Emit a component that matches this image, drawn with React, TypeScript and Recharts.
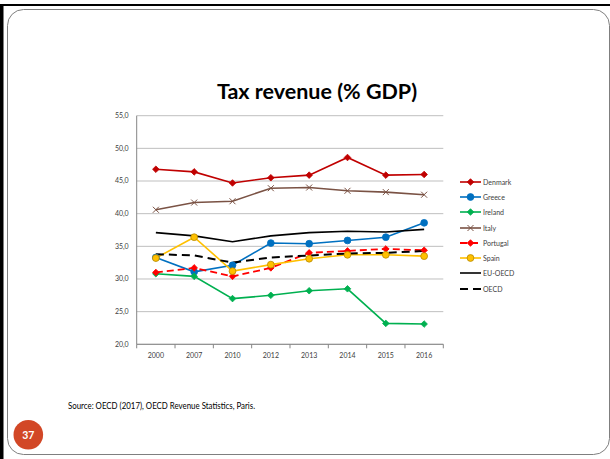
import React from 'react';
import { LineChart, Line, XAxis, YAxis, CartesianGrid } from 'recharts';

const years = ['2000', '2007', '2010', '2012', '2013', '2014', '2015', '2016'];
const denmark = [46.8, 46.4, 44.7, 45.5, 45.9, 48.6, 45.9, 46.0];
const greece = [33.3, 31.1, 32.1, 35.5, 35.4, 35.9, 36.4, 38.6];
const ireland = [30.8, 30.4, 27.0, 27.5, 28.2, 28.5, 23.2, 23.1];
const italy = [40.6, 41.7, 41.9, 43.9, 44.0, 43.5, 43.3, 42.9];
const portugal = [31.0, 31.7, 30.4, 31.7, 34.0, 34.3, 34.6, 34.4];
const spain = [33.2, 36.4, 31.2, 32.2, 33.1, 33.7, 33.7, 33.5];
const euOecd = [37.1, 36.6, 35.7, 36.6, 37.1, 37.3, 37.2, 37.6];
const oecd = [33.8, 33.6, 32.5, 33.3, 33.6, 33.9, 34.0, 34.3];
const yTicks = [20, 25, 30, 35, 40, 45, 50, 55];

type MarkerKind = 'diamond' | 'circle' | 'x' | 'none';

interface Series {
  key: string;
  name: string;
  values: number[];
  color: string;
  edge?: string;
  dash?: string;
  width: number;
  marker: MarkerKind;
}

const series: Series[] = [
  { key: 'dk', name: 'Denmark', values: denmark, color: '#C00000', width: 1.6, marker: 'diamond' },
  { key: 'gr', name: 'Greece', values: greece, color: '#0070C0', width: 1.6, marker: 'circle' },
  { key: 'ie', name: 'Ireland', values: ireland, color: '#00B050', width: 1.6, marker: 'diamond' },
  { key: 'it', name: 'Italy', values: italy, color: '#7A5244', width: 1.6, marker: 'x' },
  { key: 'pt', name: 'Portugal', values: portugal, color: '#FF0000', dash: '7 4', width: 1.8, marker: 'diamond' },
  { key: 'es', name: 'Spain', values: spain, color: '#FFC000', edge: '#B88A00', width: 1.6, marker: 'circle' },
  { key: 'eu', name: 'EU-OECD', values: euOecd, color: '#000000', width: 1.6, marker: 'none' },
  { key: 'oecd', name: 'OECD', values: oecd, color: '#000000', dash: '8 5', width: 2, marker: 'none' },
];

const data = years.map((year, i) => {
  const row: Record<string, string | number> = { year };
  series.forEach((s) => {
    row[s.key] = s.values[i];
  });
  return row;
});

const FONT = 'Lato, "Liberation Sans", sans-serif';

function Marker({ s, cx, cy }: { s: Series; cx: number; cy: number }) {
  if (s.marker === 'diamond') {
    const r = 3.3;
    return (
      <polygon
        points={`${cx},${cy - r} ${cx + r},${cy} ${cx},${cy + r} ${cx - r},${cy}`}
        fill={s.color}
        stroke={s.color}
        strokeWidth={0.8}
      />
    );
  }
  if (s.marker === 'circle') {
    return <circle cx={cx} cy={cy} r={3.4} fill={s.color} stroke={s.edge || s.color} strokeWidth={0.8} />;
  }
  if (s.marker === 'x') {
    const r = 3;
    return (
      <g stroke={s.color} strokeWidth={1}>
        <line x1={cx - r} y1={cy - r} x2={cx + r} y2={cy + r} />
        <line x1={cx - r} y1={cy + r} x2={cx + r} y2={cy - r} />
      </g>
    );
  }
  return <g />;
}

const halfBand = 19.16;

function YearTick(props: any) {
  const { x, y, payload, index } = props;
  const axisY = y - 8;
  return (
    <g>
      <line x1={x + halfBand} y1={axisY} x2={x + halfBand} y2={axisY + 4} stroke="#868686" />
      {index === 0 && <line x1={x - halfBand} y1={axisY} x2={x - halfBand} y2={axisY + 4} stroke="#868686" />}
      <text x={x} y={y + 6} textAnchor="middle" fontSize={7} fill="#404040" fontFamily={FONT}>
        {payload.value}
      </text>
    </g>
  );
}

function LegendBox() {
  return (
    <div style={{ position: 'absolute', left: 460, top: 174, fontFamily: FONT, fontSize: 7, color: '#404040' }}>
      {series.map((s) => (
        <div key={s.key} style={{ height: 15.3, display: 'flex', alignItems: 'center' }}>
          <svg width={22} height={10} style={{ display: 'block' }}>
            <line x1={0} y1={5} x2={21} y2={5} stroke={s.color} strokeWidth={s.width} strokeDasharray={s.dash} />
            <Marker s={s} cx={10.5} cy={5} />
          </svg>
          <span style={{ marginLeft: 1 }}>{s.name}</span>
        </div>
      ))}
    </div>
  );
}

export default function App() {
  return (
    <div style={{ position: 'fixed', left: 0, top: 0, width: 610, height: 459, background: '#fff', overflow: 'hidden' }}>
      <svg width={610} height={459} style={{ position: 'absolute', left: 0, top: 0 }}>
        <rect x={0} y={4} width={610} height={2} fill="#000" />
        <rect x={0} y={4} width={3.5} height={455} fill="#000" />
        <rect x={7.5} y={9.5} width={602} height={445} rx={16} ry={16} fill="#fff" stroke="#7f7f7f" strokeWidth={1} />
        <text x={317} y={99} textAnchor="middle" fontSize={21.5} fontWeight={700} fill="#000" fontFamily={FONT}>
          Tax revenue (% GDP)
        </text>
        <text
          x={68}
          y={408.5}
          fontSize={8.8}
          fill="#000"
          fontFamily={FONT}
          textLength={187}
          lengthAdjust="spacingAndGlyphs"
        >
          Source: OECD (2017), OECD Revenue Statistics, Paris.
        </text>
        <circle cx={28.3} cy={434.7} r={14.8} fill="#D24726" />
        <text x={28.3} y={438.5} textAnchor="middle" fontSize={10.5} fontWeight={700} fill="#fff" fontFamily={FONT}>
          37
        </text>
      </svg>
      <div style={{ position: 'absolute', left: 0, top: 0 }}>
        <LineChart
          width={610}
          height={459}
          data={data}
          margin={{ top: 115.7, right: 166.7, left: 106.7, bottom: 94.7 }}
        >
          <CartesianGrid vertical={false} stroke="#bfbfbf" />
          <XAxis
            dataKey="year"
            height={20}
            padding={{ left: halfBand, right: halfBand }}
            axisLine={{ stroke: '#868686' }}
            tickLine={false}
            tickSize={4}
            tickMargin={4}
            tick={<YearTick />}
            interval={0}
          />
          <YAxis
            width={30}
            domain={[20, 55]}
            ticks={yTicks}
            axisLine={{ stroke: '#868686' }}
            tickLine={false}
            tickSize={4}
            tickMargin={4}
            tickFormatter={(v: number) => v.toFixed(1).replace('.', ',')}
            tick={{ fontSize: 7, fill: '#404040', fontFamily: FONT }}
          />
          {series.map((s) => (
            <Line
              key={s.key}
              dataKey={s.key}
              name={s.name}
              type="linear"
              stroke={s.color}
              strokeWidth={s.width}
              strokeDasharray={s.dash}
              isAnimationActive={false}
              dot={(p: any) => <Marker key={`${s.key}-${p.index}`} s={s} cx={p.cx} cy={p.cy} />}
              activeDot={false}
            />
          ))}
        </LineChart>
      </div>
      <LegendBox />
    </div>
  );
}
